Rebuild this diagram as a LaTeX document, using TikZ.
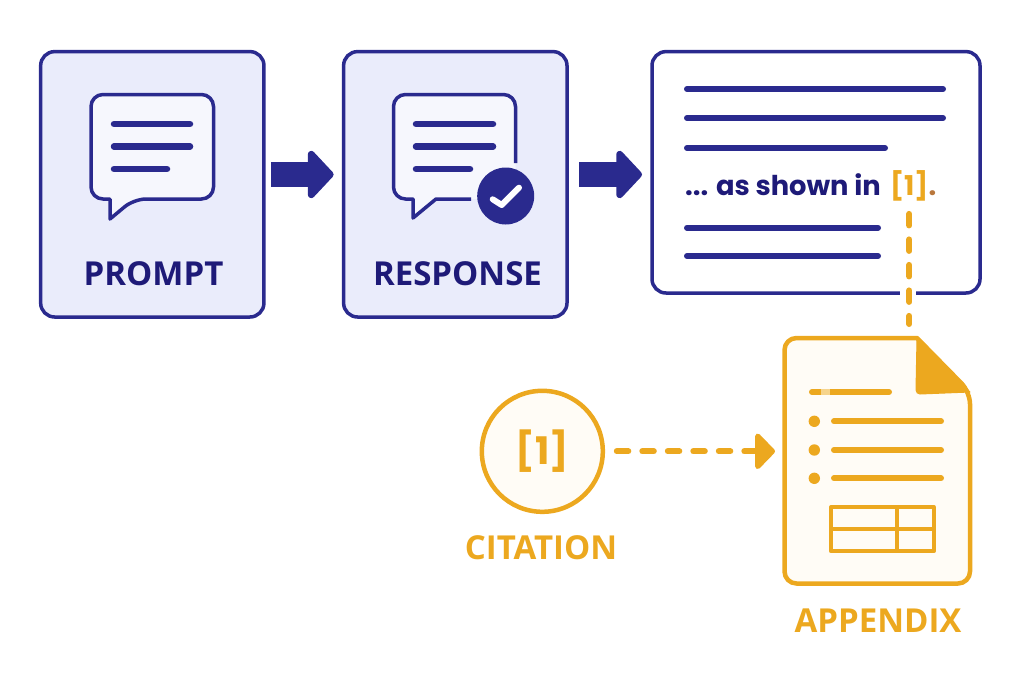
\documentclass[tikz,border=0pt]{standalone}
\usepackage{fontspec}
\setmainfont{Open Sans}
\newfontfamily\capfont{Poppins}
\usetikzlibrary{arrows.meta}
\definecolor{navy}{HTML}{2A2A8E}
\definecolor{labelnavy}{HTML}{1E1A78}
\definecolor{panelfill}{HTML}{EAECFB}
\definecolor{bubblefill}{HTML}{F6F7FD}
\definecolor{amber}{HTML}{ECA81F}
\definecolor{amberpale}{HTML}{F6D48C}
\definecolor{amberfill}{HTML}{FFFCF6}
\definecolor{dotbrown}{HTML}{B9773C}
\tikzset{
panel/.style={draw=navy,line width=3.5pt,rounded corners=14pt,outer sep=0pt,inner sep=0pt},
tag/.style={inner sep=0pt,font=\bfseries\fontsize{33}{36}\selectfont},
captext/.style={anchor=base west,inner sep=0pt,font=\capfont\bfseries\fontsize{27.3}{32}\selectfont},
rowline/.style={navy,line width=6.5pt,line cap=round},
ambline/.style={amber,line width=6pt,line cap=round},
bigarrow/.style={navy,line width=25pt,-{Triangle[length=27pt,width=56pt,round]}},
dashline/.style={amber,line width=6pt,line cap=round,dash pattern=on 11.5pt off 14pt}
}

\begin{document}
\begin{tikzpicture}[x=1pt,y=-1pt]
\useasboundingbox (0,0) rectangle (1024,683);

\node[panel,fill=panelfill,minimum width=223.3pt,minimum height=265.4pt] (prompt) at (152.3,184.3) {};
\node[panel,fill=panelfill,minimum width=223.4pt,minimum height=265.4pt] (response) at (455.3,184.3) {};
\node[panel,fill=white,minimum width=328pt,minimum height=241.4pt] (doc) at (816,172.3) {};

\node[tag,text=labelnavy] (promptlabel) at (153.5,273.7) {PROMPT};
\node[tag,text=labelnavy] (responselabel) at (457.5,273.7) {RESPONSE};

\draw[bigarrow,shorten <=7pt,shorten >=10pt] ([yshift=9.8pt]prompt.east) -- ([yshift=9.8pt]response.west);
\draw[bigarrow,shorten <=12pt,shorten >=10pt] ([yshift=9.8pt]response.east) -- ([yshift=-2.2pt]doc.west);

% speech bubbles
\draw[navy,line width=3.5pt,fill=bubblefill,line join=round,rounded corners=12pt] (110,199) -- (91,199) -- (91,94.5) -- (213.5,94.5) -- (213.5,199) -- (134,199) [sharp corners] -- (110,219) -- cycle;
\foreach \y/\e in {124/190,146.5/190,169/167}
\draw[rowline] (114,\y) -- (\e,\y);

\fill[bubblefill,rounded corners=12pt] (413,199) -- (393.5,199) -- (393.5,94.5) -- (515.5,94.5) -- (515.5,199) [sharp corners] -- (436,199) -- (413,218) -- cycle;
\draw[navy,line width=3.5pt,line join=round] (471,199) -- (436,199) -- (413,218) -- (413,199) [rounded corners=12pt] -- (393.5,199) -- (393.5,94.5) -- (515.5,94.5) -- (515.5,163);
\foreach \y/\e in {124/493,146.5/493,169/470}
\draw[rowline] (416,\y) -- (\e,\y);
\node[circle,fill=navy,minimum size=57pt,inner sep=0pt] (check) at (505.7,196) {};
\draw[white,line width=6pt,line cap=round,line join=round] (492.7,199.3) -- (501.7,205) -- (519,187.7);

% text lines of the document
\foreach \y/\e in {89/943,118/943,148/885}
\draw[rowline,line width=6pt] (687,\y) -- (\e,\y);
\foreach \y in {227.7,256}
\draw[rowline,line width=6pt] (687,\y) -- (878,\y);
\node[captext,text=labelnavy] (cap) at (685,195) {... as shown in};
\node[captext,text=amber] (ref) at (890,195) {[1]};
\node[captext,text=dotbrown] (stop) at (ref.base east) {.};

% appendix sheet
\node[minimum width=185.5pt,minimum height=245.5pt,inner sep=0pt,outer sep=0pt] (appendix) at (877.25,460.75) {};
\draw[amber,line width=4.5pt,fill=amberfill,line join=round,rounded corners=12pt] (917,338) -- (784.5,338) -- (784.5,583.5) -- (970,583.5) -- (970,392) [sharp corners] -- cycle;
\fill[amber,draw=amber,line width=1pt,line join=round] (917,338) -- (970,392) -- (920,394) to[out=180,in=-90] (916,390) -- cycle;
\draw[ambline] (812,392) -- (889,392);
\draw[amberpale,line width=6pt] (821,392) -- (830,392);
\foreach \y in {421.3,450,478.3}
{
\fill[amber] (814.3,\y) circle (5.7);
\draw[ambline] (834,\y) -- (941,\y);
}
\draw[amber,line width=4pt,line join=round] (831,507) rectangle (933.7,551.3);
\draw[amber,line width=4pt] (831,529.3) -- (933.7,529.3);
\draw[amber,line width=4pt] (897.3,507) -- (897.3,551.3);
\node[tag,text=amber] (appendixlabel) at (878,620.5) {APPENDIX};

% citation
\node[circle,draw=amber,line width=4.5pt,fill=amberfill,minimum size=121pt,inner sep=0pt,outer sep=0pt] (cite) at (542.3,451.3) {};
\node[inner sep=0pt,text=amber,font=\capfont\bfseries\fontsize{38}{40}\selectfont] (citenum) at (cite) {[1]};
\node[tag,text=amber] (citelabel) at (541,548) {CITATION};

\draw[dashline,-{Triangle[length=21pt,width=42pt,round]},shorten <=14pt,shorten >=9.5pt] (cite.east) -- (cite.east -| appendix.west);

% the dashes cross the lower edge of the document
\draw[white,line width=6pt] (900,293) -- (916,293);
\draw[dashline,shorten <=13pt,shorten >=14pt] (ref.south) -- (ref.south |- appendix.north);
\end{tikzpicture}
\end{document}
